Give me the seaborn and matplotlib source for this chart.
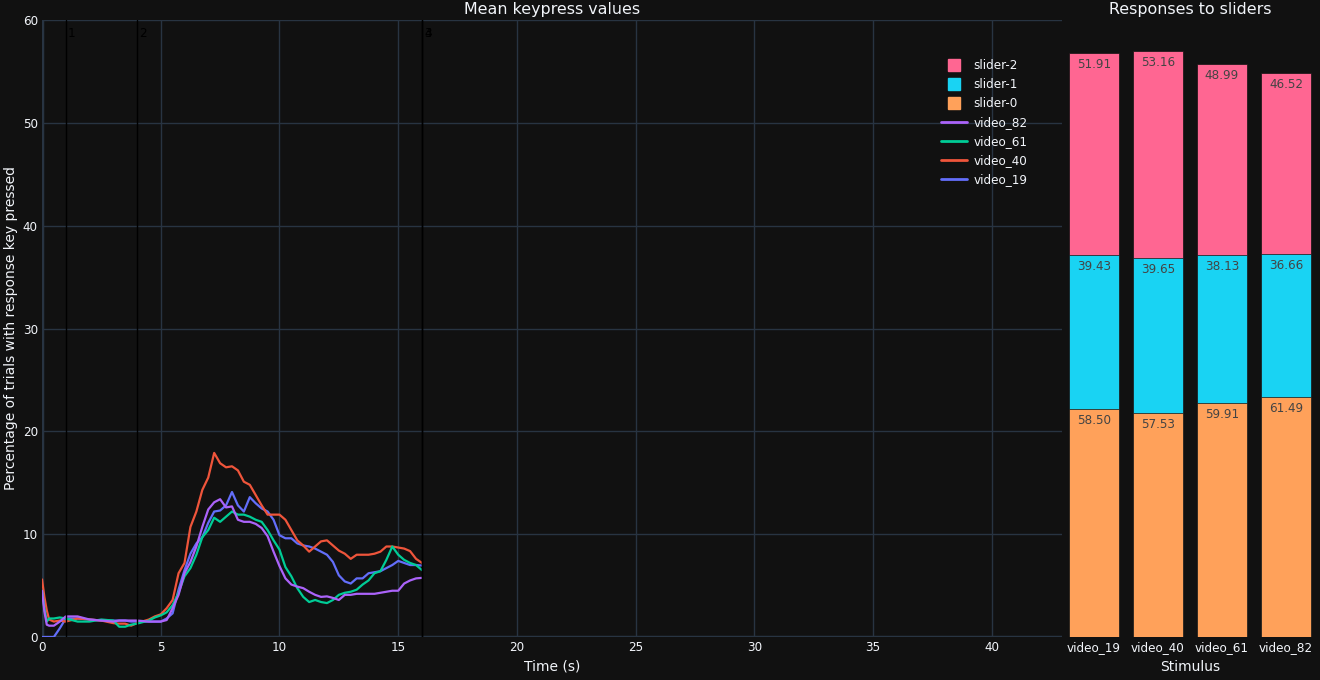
import pandas as pd
import seaborn as sns
import matplotlib.pyplot as plt
from matplotlib.lines import Line2D

# time axis (s) and mean keypress percentage per stimulus
time = [0, 0.1, 0.2, 0.3, 0.5, 0.75, 1, 1.5, 2, 2.5, 3, 3.25, 3.5, 3.75, 4, 4.5, 4.75,
        5, 5.25, 5.5, 5.75, 6, 6.25, 6.5, 6.75, 7, 7.25, 7.5, 7.75, 8, 8.25, 8.5, 8.75,
        9, 9.25, 9.5, 9.75, 10, 10.25, 10.5, 10.75, 11, 11.25, 11.5, 11.75, 12, 12.25,
        12.5, 12.75, 13, 13.25, 13.5, 13.75, 14, 14.25, 14.5, 14.75, 15, 15.25, 15.5,
        15.75, 16]

video_19 = [0, 0, 0, 0, 0, 0.85, 1.8, 1.8, 1.7, 1.6, 1.6, 1.6, 1.6, 1.5, 1.5, 1.5, 1.5,
            1.5, 1.8, 2.3, 4.6, 6.5, 8.1, 9.1, 9.7, 11.1, 12.2, 12.3, 12.8, 14.1, 12.8, 12.2, 13.6,
            13.0, 12.5, 12.2, 11.4, 9.9, 9.6, 9.6, 9.1, 8.9, 8.8, 8.6, 8.3, 8.0, 7.3,
            6.0, 5.4, 5.2, 5.7, 5.7, 6.2, 6.3, 6.4, 6.7, 7.0, 7.4, 7.2, 7.0,
            7.0, 6.95]
video_40 = [5.6, 3.9, 2.6, 1.7, 1.5, 1.6, 1.5, 1.8, 1.7, 1.6, 1.35, 1.3, 1.3, 1.1, 1.35, 1.7, 2.0,
            2.2, 2.8, 3.6, 6.2, 7.2, 10.7, 12.2, 14.3, 15.5, 17.9, 16.9, 16.5, 16.6, 16.2, 15.1, 14.8,
            13.8, 12.8, 11.9, 11.9, 11.9, 11.4, 10.4, 9.4, 8.9, 8.3, 8.8, 9.3, 9.4, 8.9,
            8.4, 8.1, 7.6, 8.0, 8.0, 8.0, 8.1, 8.3, 8.8, 8.8, 8.7, 8.6, 8.35,
            7.6, 7.2]
video_61 = [4.5, 2.8, 1.5, 1.8, 1.8, 1.9, 1.8, 1.5, 1.5, 1.7, 1.6, 1.0, 1.0, 1.2, 1.3, 1.6, 1.9,
            2.1, 2.4, 3.1, 4.3, 5.9, 6.7, 8.0, 9.7, 10.4, 11.6, 11.2, 11.7, 12.2, 11.9, 11.9, 11.7,
            11.4, 11.2, 10.4, 9.4, 8.5, 6.8, 5.9, 4.75, 3.9, 3.4, 3.6, 3.4, 3.3, 3.6,
            4.1, 4.3, 4.4, 4.6, 5.1, 5.5, 6.2, 6.4, 7.5, 8.8, 8.0, 7.5, 7.2,
            7.0, 6.5]
video_82 = [4.5, 2.5, 1.2, 1.1, 1.1, 1.5, 2.0, 2.0, 1.7, 1.6, 1.5, 1.6, 1.6, 1.6, 1.6, 1.5, 1.5,
            1.5, 1.65, 2.8, 4.1, 6.2, 7.3, 8.8, 10.7, 12.4, 13.1, 13.4, 12.6, 12.7, 11.4, 11.2, 11.2,
            11.0, 10.6, 9.8, 8.3, 6.9, 5.7, 5.1, 4.9, 4.75, 4.4, 4.1, 3.9, 3.95, 3.8,
            3.6, 4.1, 4.1, 4.2, 4.2, 4.2, 4.2, 4.3, 4.4, 4.5, 4.5, 5.2, 5.5,
            5.7, 5.75]

# event markers
event_times = [1, 4, 16, 16]
event_labels = ["1", "2", "3", "4"]

# slider responses
stimuli = ["video_19", "video_40", "video_61", "video_82"]
slider_0 = [58.50, 57.53, 59.91, 61.49]
slider_1 = [39.43, 39.65, 38.13, 36.66]
slider_2 = [51.91, 53.16, 48.99, 46.52]

line_colors = {"video_19": "#636efa", "video_40": "#EF553B",
               "video_61": "#00cc96", "video_82": "#ab63fa"}
bar_colors = {"slider-0": "#FFA15A", "slider-1": "#19d3f3", "slider-2": "#FF6692"}

BG = "#111111"
GRID = "#283442"
FG = "#f2f5fa"
FS = 8.64  # 12 px

sns.set_theme(style="dark")
plt.rcParams["font.family"] = ["DejaVu Sans"]
plt.rcParams["figure.facecolor"] = BG
plt.rcParams["axes.facecolor"] = BG

fig = plt.figure(figsize=(13.2, 6.8), dpi=100)
ax = fig.add_axes([42 / 1320, 43 / 680, 1020 / 1320, 617 / 680])
ax2 = fig.add_axes([1062 / 1320, 43 / 680, 256 / 1320, 617 / 680])

# ---- left: keypress lines
df = pd.DataFrame({"time": time, "video_19": video_19, "video_40": video_40,
                   "video_61": video_61, "video_82": video_82})
long = df.melt(id_vars="time", var_name="stimulus", value_name="value")
sns.lineplot(data=long, x="time", y="value", hue="stimulus", palette=line_colors,
             linewidth=1.6, legend=False, ax=ax, zorder=3)

ax.set_xlim(0, 42.95)
ax.set_ylim(0, 60)
ax.set_xticks(range(0, 45, 5))
ax.set_yticks(range(0, 70, 10))
ax.grid(True, color=GRID, linewidth=1)
ax.axhline(0, color=GRID, linewidth=2.5, zorder=2)
ax.axvline(0, color=GRID, linewidth=2.5, zorder=2)
for s in ax.spines.values():
    s.set_visible(False)
ax.tick_params(colors=FG, labelsize=FS, length=0, pad=3)
ax.set_xlabel("Time (s)", color=FG, fontsize=10)
ax.set_ylabel("Percentage of trials with response key pressed", color=FG, fontsize=10)
ax.yaxis.set_label_coords(-0.0235, 0.5)
ax.set_title("Mean keypress values", color=FG, fontsize=11.4, pad=4)

for t, lab in zip(event_times, event_labels):
    ax.axvline(t, color="black", linewidth=1, zorder=4)
    ax.text(t + 0.1, 59.3, lab, color="black", fontsize=FS, va="top", ha="left")

# ---- right: stacked slider bars
stack = pd.DataFrame({"stimulus": stimuli, "slider-0": slider_0,
                      "slider-1": slider_1, "slider-2": slider_2})
stack["top0"] = stack["slider-0"]
stack["top1"] = stack["top0"] + stack["slider-1"]
stack["top2"] = stack["top1"] + stack["slider-2"]

for col, top in [("slider-2", "top2"), ("slider-1", "top1"), ("slider-0", "top0")]:
    sns.barplot(data=stack, x="stimulus", y=top, color=bar_colors[col], width=0.78,
                saturation=1, edgecolor=BG, linewidth=0.5, ax=ax2)
    for i, row in stack.iterrows():
        ax2.annotate(f"{row[col]:.2f}", (i, row[top]), xytext=(0, -3.5),
                     textcoords="offset points", ha="center", va="top",
                     color="#444444", fontsize=FS)

ax2.set_ylim(0, 158.3)
ax2.set_xlim(-0.5, 3.5)
ax2.set_yticks([])
for s in ax2.spines.values():
    s.set_visible(False)
ax2.tick_params(colors=FG, labelsize=FS, length=0, pad=3)
ax2.set_xlabel("Stimulus", color=FG, fontsize=10)
ax2.set_ylabel("")
ax2.set_title("Responses to sliders", color=FG, fontsize=11.4, pad=4)

# ---- legend
handles = [Line2D([], [], marker="s", linestyle="none", markersize=9,
                  markerfacecolor=bar_colors[k], markeredgecolor=bar_colors[k])
           for k in ["slider-2", "slider-1", "slider-0"]]
handles += [Line2D([], [], color=line_colors[k], linewidth=2)
            for k in ["video_82", "video_61", "video_40", "video_19"]]
labels = ["slider-2", "slider-1", "slider-0", "video_82", "video_61", "video_40", "video_19"]
leg = fig.legend(handles, labels, loc="upper left", bbox_to_anchor=(935 / 1320, 1 - 53 / 680),
                 frameon=False, fontsize=FS, labelcolor=FG, handlelength=2.2,
                 handletextpad=0.5, labelspacing=0.5, borderpad=0)

fig.savefig("out.png", dpi=100, facecolor=BG)
